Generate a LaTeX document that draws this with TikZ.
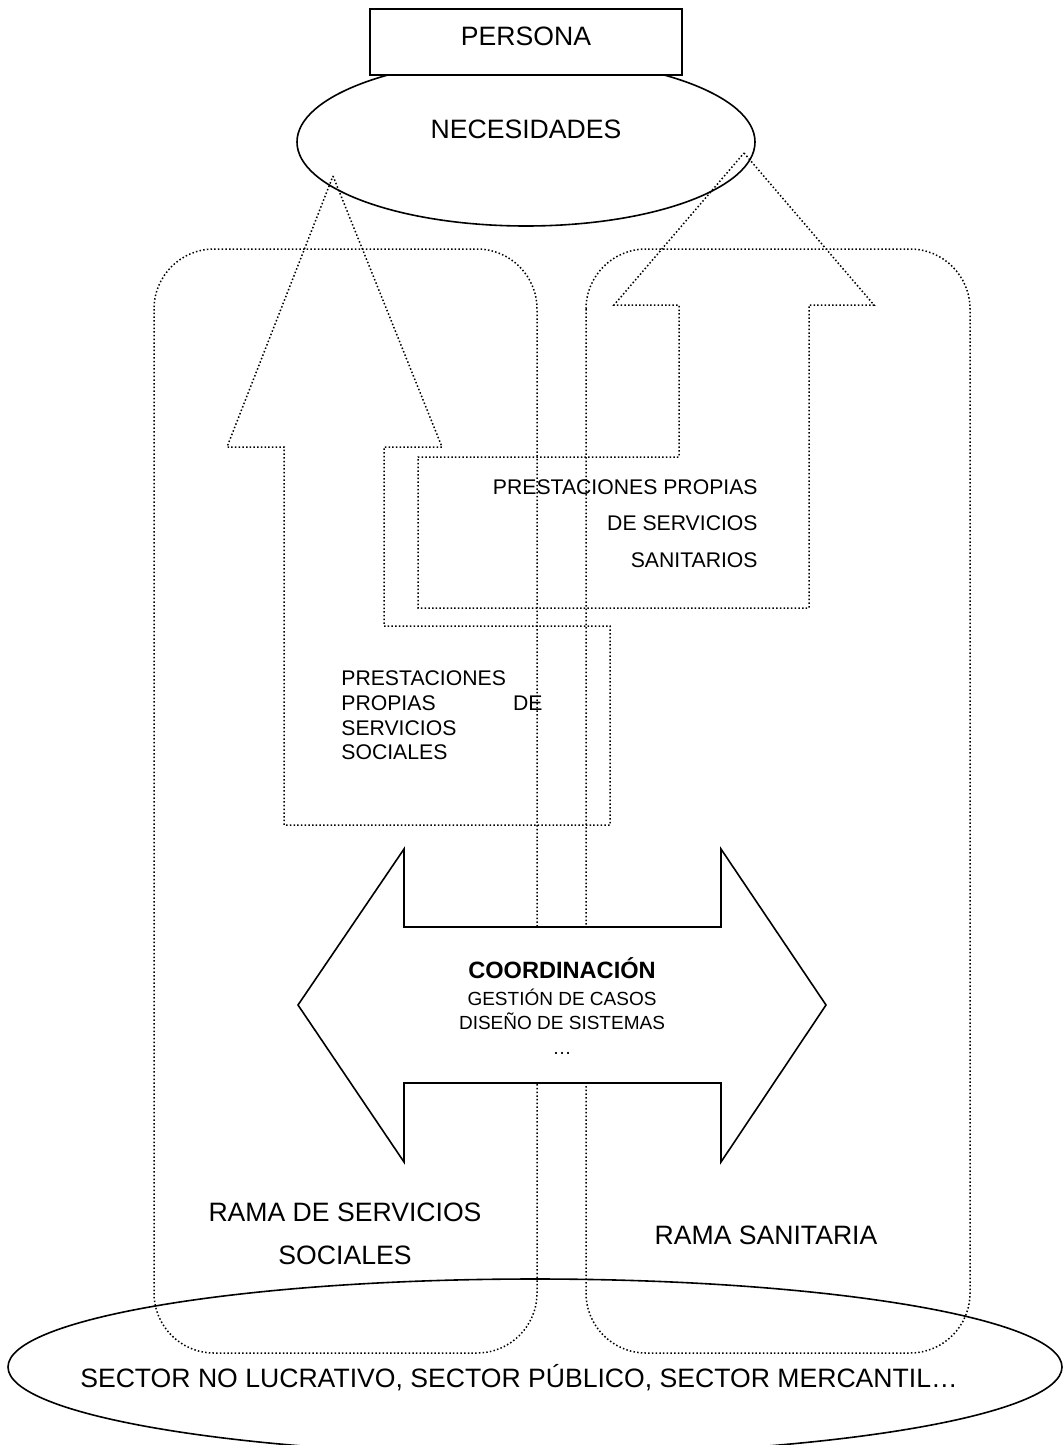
\documentclass[tikz,border=0pt]{standalone}
\usepackage{fontspec}
\setmainfont{Liberation Sans}
\begin{document}
\begin{tikzpicture}[x=0.5pt,y=-0.5pt,
  dotline/.style={line width=0.75pt, dash pattern=on 0.75pt off 1.1pt, line cap=butt},
  solidline/.style={line width=0.8pt, line join=miter},
  bigtxt/.style={inner sep=0pt, font=\fontsize{13.3pt}{15pt}\selectfont},
  smalltxt/.style={inner sep=0pt, font=\fontsize{10.6pt}{12.5pt}\selectfont},
  coordtxt/.style={inner sep=0pt, font=\fontsize{9.5pt}{11pt}\selectfont},
  boldtxt/.style={inner sep=0pt, font=\fontsize{11.8pt}{13pt}\selectfont\bfseries}]
\useasboundingbox (0,0) rectangle (1064,1445);
\begin{scope}
\clip (0,0) rectangle (1064,1445);
% branches
\draw[dotline, rounded corners=30pt] (154,249) rectangle (537,1353);
\draw[dotline, rounded corners=30pt] (586,249) rectangle (970,1353);
% up arrow callouts
\draw[dotline] (333,176) -- (442,447) -- (384,447) -- (384,626) -- (610,626) -- (610,825) -- (284,825) -- (284,447) -- (227,447) -- cycle;
\draw[dotline] (744,153) -- (874,305) -- (809,305) -- (809,608) -- (418,608) -- (418,457) -- (679,457) -- (679,305) -- (614,305) -- cycle;
% necesidades
\draw[solidline] (526,142) ellipse [x radius=114.5pt, y radius=42pt];
\node[draw, solidline, fill=white, minimum width=156pt, minimum height=33pt, inner sep=0pt] (persona) at (526,42) {};
% coordination double arrow
\draw[solidline, fill=white] (298,1005) -- (404,849) -- (404,927) -- (721,927) -- (721,849) -- (826,1005) -- (721,1162) -- (721,1083) -- (404,1083) -- (404,1162) -- cycle;
% sectors
\draw[solidline] (535,1367) ellipse [x radius=263.5pt, y radius=44pt];
\end{scope}
% texts
\node[bigtxt, anchor=base] (tpersona) at (526,46) {PERSONA};
\node[bigtxt, anchor=base] (tnec) at (526,139) {NECESIDADES};
\node[smalltxt, anchor=base east] (ps1) at (758,494.5) {PRESTACIONES PROPIAS};
\node[smalltxt, anchor=base east] (ps2) at (758,530.5) {DE SERVICIOS};
\node[smalltxt, anchor=base east] (ps3) at (758,567.5) {SANITARIOS};
\node[smalltxt, anchor=base west] (pl1) at (341,685.5) {PRESTACIONES};
\node[smalltxt, anchor=base west] (pl2) at (341,710.5) {PROPIAS};
\node[smalltxt, anchor=base east] (pl2b) at (543,710.5) {DE};
\node[smalltxt, anchor=base west] (pl3) at (341,735.5) {SERVICIOS};
\node[smalltxt, anchor=base west] (pl4) at (341,759.5) {SOCIALES};
\node[boldtxt, anchor=base] (c1) at (562,978.5) {COORDINACIÓN};
\node[coordtxt, anchor=base] (c2) at (562,1005) {GESTIÓN DE CASOS};
\node[coordtxt, anchor=base] (c3) at (562,1029) {DISEÑO DE SISTEMAS};
\node[coordtxt, anchor=base] (c4) at (562,1054) {…};
\node[bigtxt, anchor=base] (r1) at (345,1221) {RAMA DE SERVICIOS};
\node[bigtxt, anchor=base] (r2) at (345,1264) {SOCIALES};
\node[bigtxt, anchor=base] (r3) at (766,1244) {RAMA SANITARIA};
\node[bigtxt, anchor=base] (sec) at (519,1387) {SECTOR NO LUCRATIVO, SECTOR PÚBLICO, SECTOR MERCANTIL…};
\end{tikzpicture}
\end{document}
